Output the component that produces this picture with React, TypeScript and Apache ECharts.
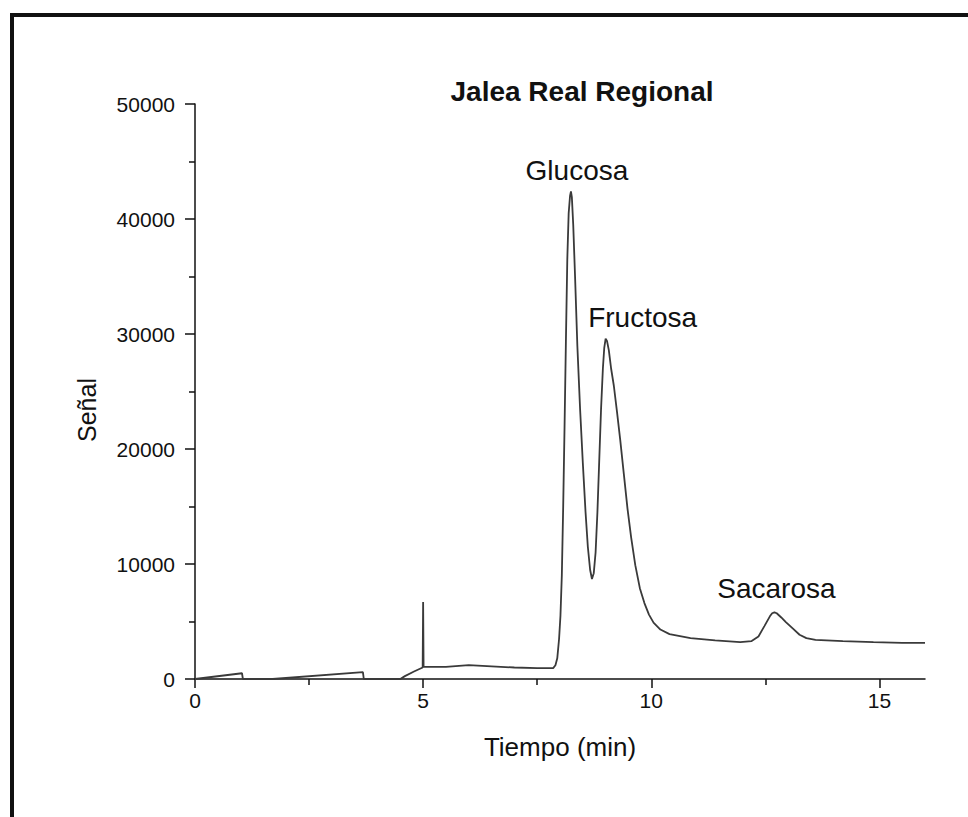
import React, { useEffect, useRef } from "react";
import * as echarts from "echarts";

const times: number[] = [
  0, 1.03, 1.05, 1.7, 3.68, 3.7, 4.5, 4.6, 4.8, 4.99, 5.0, 5.01, 5.5, 6.0, 6.5, 7.0, 7.5, 7.85, 7.9,
  7.94, 7.98, 8.01, 8.04, 8.07, 8.1, 8.13, 8.16, 8.19, 8.22, 8.24, 8.26, 8.29, 8.33, 8.38, 8.44, 8.5,
  8.56, 8.61, 8.66, 8.7, 8.74, 8.78, 8.82, 8.86, 8.9, 8.94, 8.97, 9.0, 9.03, 9.07, 9.12, 9.18, 9.25,
  9.32, 9.4, 9.48, 9.56, 9.65, 9.75, 9.85, 9.95, 10.05, 10.2, 10.4, 10.86, 11.4, 11.95, 12.2, 12.35,
  12.48, 12.6, 12.65, 12.7, 12.75, 12.85, 12.95, 13.1, 13.25, 13.4, 13.6, 14.2, 14.87, 15.5, 16.0,
];
const signal: number[] = [
  0, 500, 0, 0, 600, 0, 0, 250, 650, 1000, 6700, 1050, 1050, 1200, 1100, 1000, 950, 950, 1200,
  1800, 3500, 5500, 9000, 15000, 22000, 29500, 36500, 40500, 42000, 42400, 41900, 39500, 35000, 29000, 23500, 18800,
  14500, 11500, 9500, 8700, 9200, 11000, 14500, 19000, 23500, 27000, 28800, 29600, 29400, 28600, 27000, 25500, 23200,
  20800, 17800, 14800, 12300, 9900, 7900, 6600, 5600, 4900, 4300, 3900, 3550, 3350, 3200, 3300, 3700,
  4600, 5450, 5720, 5800, 5720, 5350, 4950, 4400, 3850, 3550, 3400, 3300, 3200, 3150, 3150,
];
const peakNames: string[] = ["Glucosa", "Fructosa", "Sacarosa"];
const peakTimes: number[] = [8.24, 9.0, 12.7];
const peakValues: number[] = [42400, 29600, 5800];
const xTicks: number[] = [0, 5, 10, 15];

const FONT = "'Liberation Sans', Arial, sans-serif";

export default function App() {
  const ref = useRef<HTMLDivElement>(null);
  useEffect(() => {
    if (!ref.current) return;
    const chart = echarts.init(ref.current, null, { renderer: "svg" });
    const labelOffsets: number[][] = [[6, -21], [37, -21], [2, -24]];
    chart.setOption({
      animation: false,
      backgroundColor: "#ffffff",
      title: {
        text: "Jalea Real Regional",
        left: 577,
        top: 72,
        textAlign: "center",
        textStyle: { fontFamily: FONT, fontSize: 28, fontWeight: "bold", color: "#111" },
      },
      graphic: [
        {
          type: "rect",
          shape: { x: 12, y: 15, width: 1000, height: 1000 },
          style: { fill: "none", stroke: "#111", lineWidth: 4 },
          silent: true,
        },
        {
          type: "text",
          x: 87,
          y: 410,
          rotation: Math.PI / 2,
          style: {
            text: "Señal",
            fontFamily: FONT,
            fontSize: 25,
            fill: "#111",
            align: "center",
            verticalAlign: "middle",
          },
          silent: true,
        },
      ],
      grid: { left: 195, right: 43, top: 104, bottom: 138, containLabel: false },
      xAxis: {
        type: "value",
        min: 0,
        max: 16,
        interval: 5,
        name: "Tiempo (min)",
        nameLocation: "middle",
        nameGap: 55,
        nameTextStyle: { fontFamily: FONT, fontSize: 26, color: "#111" },
        axisLine: { show: true, onZero: false, lineStyle: { color: "#111", width: 1.5 } },
        axisTick: { show: true, inside: false, length: 9, customValues: xTicks, lineStyle: { color: "#111", width: 1.5 } },
        minorTick: { show: true, splitNumber: 2, length: 6, lineStyle: { color: "#111", width: 1.5 } },
        axisLabel: { customValues: xTicks, margin: 11, fontFamily: FONT, fontSize: 21, color: "#111" },
        splitLine: { show: false },
        minorSplitLine: { show: false },
      },
      yAxis: {
        type: "value",
        min: 0,
        max: 50000,
        interval: 10000,
        axisLine: { show: true, lineStyle: { color: "#111", width: 1.5 } },
        axisTick: { show: true, inside: false, length: 10, lineStyle: { color: "#111", width: 1.5 } },
        minorTick: { show: true, splitNumber: 2, length: 6, lineStyle: { color: "#111", width: 1.5 } },
        axisLabel: {
          margin: 20,
          fontFamily: FONT,
          fontSize: 21,
          color: "#111",
          formatter: (v: number) => String(v),
        },
        splitLine: { show: false },
        minorSplitLine: { show: false },
      },
      series: [
        {
          type: "line",
          data: times.map((t, i) => [t, signal[i]]),
          showSymbol: false,
          symbol: "none",
          lineStyle: { color: "#3a3a3a", width: 1.8 },
          markPoint: {
            symbol: "circle",
            symbolSize: 0,
            silent: true,
            data: peakNames.map((n, i) => ({
              name: n,
              coord: [peakTimes[i], peakValues[i]],
              label: {
                show: true,
                position: "inside",
                offset: labelOffsets[i],
                formatter: n,
                fontFamily: FONT,
                fontSize: 28,
                color: "#111",
              },
            })),
          },
        },
      ],
    });
    return () => chart.dispose();
  }, []);
  return (
    <div
      ref={ref}
      style={{ position: "fixed", left: 0, top: 0, width: 968, height: 817, background: "#fff" }}
    />
  );
}
